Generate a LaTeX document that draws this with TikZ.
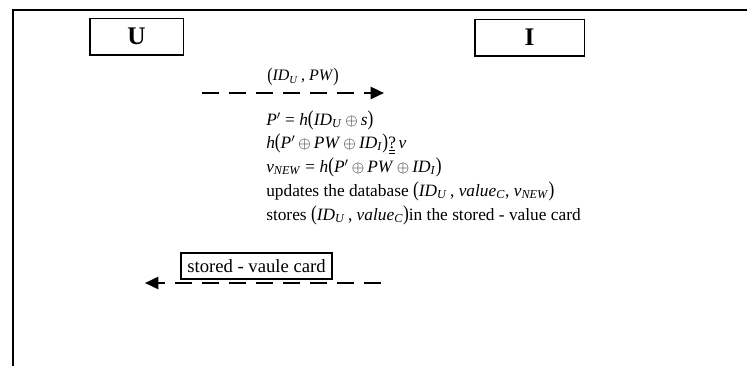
\documentclass[tikz,border=0pt]{standalone}
\usepackage{fontspec}
\usepackage{graphicx}
\setmainfont{Liberation Serif}
\usetikzlibrary{arrows.meta}
\newcommand{\vv}[1]{\textit{#1}}
\newcommand{\sbs}[1]{\textsubscript{\textit{#1}}}
\newcommand{\lp}{\raisebox{-0.12ex}{\scalebox{1}[1.22]{(}}}
\newcommand{\rp}{\raisebox{-0.12ex}{\scalebox{1}[1.22]{)}}}
\newcommand{\xo}{\kern0.18em$\oplus$\kern0.18em}
\newcommand{\pr}{$^{\prime}$}
\newcommand{\qeq}{\ooalign{?\cr\hidewidth\rule[-2.4pt]{4.6pt}{0.55pt}\hidewidth\cr\hidewidth\rule[-4.0pt]{4.6pt}{0.55pt}\hidewidth\cr}}
\begin{document}
\begin{tikzpicture}[x=0.75pt,y=-0.75pt,
  every node/.style={font=\fontsize{13}{15}\selectfont},
  party/.style={draw, line width=1pt, minimum height=27.5pt, font=\fontsize{19}{22}\selectfont\bfseries, inner sep=0pt},
  msg/.style={anchor=base west, inner sep=0pt},
  flow/.style={line width=1.9pt, dash pattern=on 12.75pt off 7.5pt, -{Triangle[length=10pt,width=9pt]}},
  cardbox/.style={draw, line width=1.1pt, minimum width=113pt, minimum height=19.5pt, inner sep=1pt, font=\fontsize{14}{16}\selectfont}]
\useasboundingbox (0,0) rectangle (747,365);
\draw[line width=1.5pt] (747,9.5) -- (12.5,9.5) -- (12.5,366);
\node[party, minimum width=70pt] (U) at (136.5,36.5) {U};
\node[party, minimum width=82pt] (I) at (529.5,37.5) {I};
\node[inner sep=0pt, font=\fontsize{12}{14}\selectfont] (m1) at (303,77) {\lp\vv{ID}\sbs{U}\,, \vv{PW}\rp};
\coordinate (a1s) at (202,93);
\coordinate (a1e) at (384,93);
\draw[flow] (a1s) -- (a1e);
\node[msg] (l1) at (266,125) {\vv{P}\pr{} = \vv{h}\lp\vv{ID}\sbs{U}\xo\vv{s}\rp};
\node[msg] (l2) at (266,148) {\vv{h}\lp\vv{P}\pr\xo\vv{PW}\xo\vv{ID}\sbs{I}\rp\qeq\kern0.15em\vv{v}};
\node[msg] (l3) at (266,172) {\vv{v}\sbs{NEW} = \vv{h}\lp\vv{P}\pr\xo\vv{PW}\xo\vv{ID}\sbs{I}\rp};
\node[msg] (l4) at (266,196) {updates the database \lp\vv{ID}\sbs{U}\,, \vv{value}\sbs{C}, \vv{v}\sbs{NEW}\rp};
\node[msg] (l5) at (266,220) {stores \lp\vv{ID}\sbs{U}\,, \vv{value}\sbs{C}\rp in the stored - value card};
\coordinate (a2s) at (381,283);
\coordinate (a2e) at (145,283);
\draw[flow] (a2s) -- (a2e);
\node[cardbox] (card) at (256.5,266) {stored - vaule card};
\end{tikzpicture}
\end{document}
